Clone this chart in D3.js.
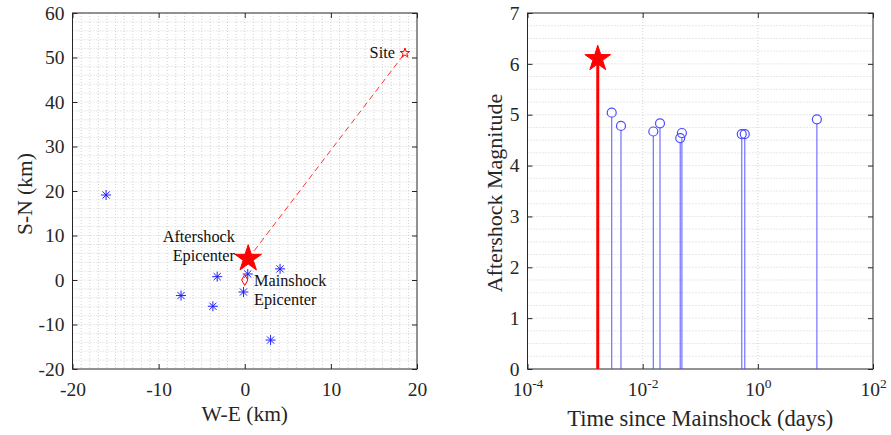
<!DOCTYPE html>
<html>
<head>
<meta charset="utf-8">
<script src="https://cdn.jsdelivr.net/npm/d3@7"></script>
<style>
  body { margin: 0; background: #fff; }
  svg { display: block; font-family: "Liberation Serif", "Times New Roman", serif; }
</style>
</head>
<body>
<svg id="chart" width="891" height="435"></svg>
<script>
// map panel: epicentres in km (W-E, S-N)
const aftershockX = [-16.1, -3.2, 0.35, 4.1, -7.4, -3.7, -0.15, 3.0];
const aftershockY = [19.1, 0.75, 1.35, 2.5, -3.5, -5.9, -2.7, -13.5];
const mainshock = [0, 0];
const aftershockEpi = [0.4, 4.8];
const site = [18.6, 51];

// time panel
const stemDays = [0.0029, 0.0042, 0.0153, 0.0200, 0.0449, 0.0480, 0.526, 0.593, 10.6];
const stemMag = [5.04, 4.78, 4.67, 4.83, 4.54, 4.64, 4.62, 4.62, 4.91];
const bigShock = {days: 0.00166, mag: 6.1};

const mapXTicks = [-20, -10, 0, 10, 20];
const mapYTicks = [-20, -10, 0, 10, 20, 30, 40, 50, 60];
const timeXTicks = [-4, -2, 0, 2];
const timeYTicks = [0, 1, 2, 3, 4, 5, 6, 7];

const svg = d3.select('#chart');
const axisCol = '#262626';
const gridCol = '#d2d2d2';
const serif = '"Liberation Serif", "Times New Roman", serif';

const L = {left: 72.5, right: 417, top: 13, bottom: 369};
const R = {left: 527.5, right: 873, top: 13, bottom: 369};

const plain = d => String(d);

function starPath(r) {
    let p = d3.path();
    for (let i = 0; i < 10; i++) {
        let rad = i % 2 ? r * 0.382 : r;
        let a = -Math.PI / 2 + i * Math.PI / 5;
        if (i === 0) p.moveTo(rad * Math.cos(a), rad * Math.sin(a));
        else p.lineTo(rad * Math.cos(a), rad * Math.sin(a));
    }
    p.closePath();
    return p.toString();
}

function frame(g, b, x, y, xt, yt, xfmt) {
    const w = b.right - b.left, h = b.bottom - b.top;
    // box + inward ticks on all sides
    const xa = g.append('g').attr('transform', `translate(0,${b.bottom})`)
        .call(d3.axisBottom(x).tickValues(xt).tickSizeInner(-5).tickSizeOuter(0).tickPadding(13).tickFormat(xfmt));
    g.append('g').attr('transform', `translate(0,${b.top})`)
        .call(d3.axisTop(x).tickValues(xt).tickSizeInner(-5).tickSizeOuter(0).tickFormat(''));
    g.append('g').attr('transform', `translate(${b.left},0)`)
        .call(d3.axisLeft(y).tickValues(yt).tickSizeInner(-5).tickSizeOuter(0).tickPadding(8).tickFormat(plain));
    g.append('g').attr('transform', `translate(${b.right},0)`)
        .call(d3.axisRight(y).tickValues(yt).tickSizeInner(-5).tickSizeOuter(0).tickFormat(''));
    g.selectAll('.domain').remove();
    g.selectAll('.tick line').attr('stroke', axisCol);
    g.selectAll('.tick text')
        .style('font-family', serif).style('font-size', '19.5px').style('fill', axisCol);
    g.append('rect').attr('x', b.left).attr('y', b.top).attr('width', w).attr('height', h)
        .attr('fill', 'none').attr('stroke', axisCol).attr('stroke-width', 1);
    return xa;
}

// ---------- left: map ----------
const xMap = d3.scaleLinear().domain([-20, 20]).range([L.left, L.right]);
const yMap = d3.scaleLinear().domain([-20, 60]).range([L.bottom, L.top]);
const gl = svg.append('g');

const gridL = gl.append('g').attr('stroke', gridCol).attr('stroke-dasharray', '1,2').attr('stroke-width', 1);
gridL.selectAll('.gx').data(d3.range(-19, 20, 1)).enter().append('line')
    .attr('x1', d => xMap(d)).attr('x2', d => xMap(d)).attr('y1', L.top).attr('y2', L.bottom);
gridL.selectAll('.gy').data(d3.range(-18, 60, 2)).enter().append('line')
    .attr('y1', d => yMap(d)).attr('y2', d => yMap(d)).attr('x1', L.left).attr('x2', L.right);

frame(gl, L, xMap, yMap, mapXTicks, mapYTicks, plain);

// dashed link site -> aftershock epicentre
gl.append('line')
    .attr('x1', xMap(aftershockEpi[0])).attr('y1', yMap(aftershockEpi[1]))
    .attr('x2', xMap(site[0])).attr('y2', yMap(site[1]))
    .attr('stroke', '#f33').attr('stroke-width', 1).attr('stroke-dasharray', '6,4');

// asterisks
const ast = gl.append('g').attr('stroke', '#1f1fff').attr('stroke-width', 1);
aftershockX.forEach((xv, i) => {
    const cx = xMap(xv), cy = yMap(aftershockY[i]), r = 5, d = r * 0.72;
    const p = d3.path();
    p.moveTo(cx - r, cy); p.lineTo(cx + r, cy);
    p.moveTo(cx, cy - r); p.lineTo(cx, cy + r);
    p.moveTo(cx - d, cy - d); p.lineTo(cx + d, cy + d);
    p.moveTo(cx - d, cy + d); p.lineTo(cx + d, cy - d);
    ast.append('path').attr('d', p.toString()).attr('fill', 'none');
});

// mainshock diamond
gl.append('path')
    .attr('d', d3.symbol(d3.symbolDiamond, 34)())
    .attr('transform', `translate(${xMap(mainshock[0])},${yMap(mainshock[1])})`)
    .attr('fill', 'none').attr('stroke', '#f00').attr('stroke-width', 1);

// site star
gl.append('path').attr('d', starPath(5))
    .attr('transform', `translate(${xMap(site[0])},${yMap(site[1])})`)
    .attr('fill', 'none').attr('stroke', '#f00').attr('stroke-width', 1);

// aftershock epicentre star
gl.append('path').attr('d', starPath(14))
    .attr('transform', `translate(${xMap(aftershockEpi[0])},${yMap(aftershockEpi[1])})`)
    .attr('fill', '#f00').attr('stroke', '#f00');

const ann = gl.append('g').attr('font-size', 16.3).attr('fill', '#111');
ann.append('text').attr('x', xMap(site[0]) - 10).attr('y', yMap(site[1]) + 5)
    .attr('text-anchor', 'end').text('Site');
ann.append('text').attr('x', 235).attr('y', 242).attr('text-anchor', 'end').text('Aftershock');
ann.append('text').attr('x', 235).attr('y', 261).attr('text-anchor', 'end').text('Epicenter');
ann.append('text').attr('x', 254).attr('y', 286).text('Mainshock');
ann.append('text').attr('x', 254).attr('y', 305).text('Epicenter');

gl.append('text').attr('x', (L.left + L.right) / 2).attr('y', 421)
    .attr('text-anchor', 'middle').attr('font-size', 21.5).attr('fill', axisCol).text('W-E (km)');
gl.append('text').attr('transform', `translate(32,194) rotate(-90)`)
    .attr('text-anchor', 'middle').attr('font-size', 21.5).attr('fill', axisCol).text('S-N (km)');

// ---------- right: stems ----------
const xT = d3.scaleLog().domain([1e-4, 1e2]).range([R.left, R.right]);
const yT = d3.scaleLinear().domain([0, 7]).range([R.bottom, R.top]);
const gr = svg.append('g');

const gridR = gr.append('g').attr('stroke', gridCol).attr('stroke-dasharray', '1,2').attr('stroke-width', 1);
gridR.selectAll('.gy').data(d3.range(0.25, 7, 0.25)).enter().append('line')
    .attr('y1', d => yT(d)).attr('y2', d => yT(d)).attr('x1', R.left).attr('x2', R.right);
gridR.selectAll('.gx').data([1e-2, 1]).enter().append('line')
    .attr('x1', d => xT(d)).attr('x2', d => xT(d)).attr('y1', R.top).attr('y2', R.bottom);

const xaR = frame(gr, R, xT, yT, timeXTicks.map(e => Math.pow(10, e)), timeYTicks, plain);
// x tick labels as 10^n
xaR.selectAll('.tick text').each(function (d) {
    const e = Math.round(Math.log10(d));
    const t = d3.select(this).text('');
    t.append('tspan').text('10');
    t.append('tspan').attr('dy', -8).style('font-size', '13.5px').text(e < 0 ? '-' + (-e) : String(e));
});

const stems = stemDays.map((d, i) => ({d, m: stemMag[i]}));
gr.selectAll('.stem').data(stems).enter().append('line')
    .attr('x1', s => xT(s.d)).attr('x2', s => xT(s.d))
    .attr('y1', yT(0)).attr('y2', s => yT(s.m) + 4.5)
    .attr('stroke', '#4d4dff').attr('stroke-opacity', 0.8).attr('stroke-width', 1.2);
gr.selectAll('.cap').data(stems).enter().append('circle')
    .attr('cx', s => xT(s.d)).attr('cy', s => yT(s.m)).attr('r', 4.5)
    .attr('fill', 'none').attr('stroke', '#4d4dff').attr('stroke-width', 1.2);

gr.append('line').attr('x1', xT(bigShock.days)).attr('x2', xT(bigShock.days))
    .attr('y1', yT(0)).attr('y2', yT(bigShock.mag))
    .attr('stroke', '#f00').attr('stroke-width', 3);
gr.append('path').attr('d', starPath(13.5))
    .attr('transform', `translate(${xT(bigShock.days)},${yT(bigShock.mag)})`)
    .attr('fill', '#f00').attr('stroke', '#f00');

gr.append('text').attr('x', (R.left + R.right) / 2).attr('y', 426)
    .attr('text-anchor', 'middle').attr('font-size', 22.5).attr('fill', axisCol).text('Time since Mainshock (days)');
gr.append('text').attr('transform', `translate(502,193) rotate(-90)`)
    .attr('text-anchor', 'middle').attr('font-size', 22).attr('fill', axisCol).text('Aftershock Magnitude');
</script>
</body>
</html>
